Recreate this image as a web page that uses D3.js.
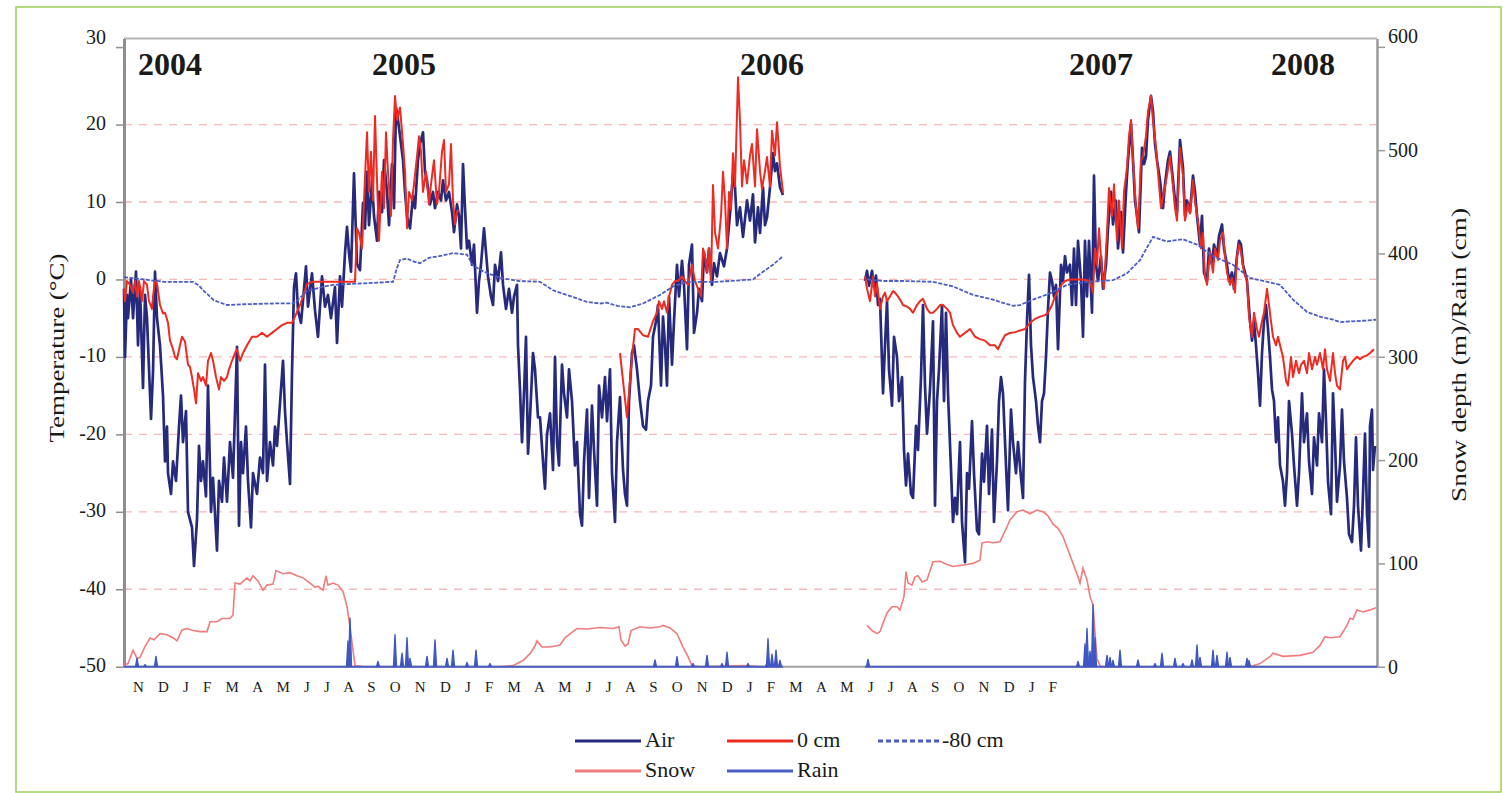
<!DOCTYPE html>
<html>
<head>
<meta charset="utf-8">
<script src="https://cdn.jsdelivr.net/npm/d3@7"></script>
<style>
  body { margin: 0; background: #fff; }
  svg text { font-family: "Liberation Serif", "DejaVu Serif", serif; fill: #1a1a1a; }
</style>
</head>
<body>
<div id="chart"></div>
<script>
// axis ticks and labels
const tempTicks = [-50, -40, -30, -20, -10, 0, 10, 20, 30];
const depthTicks = [0, 100, 200, 300, 400, 500, 600];
const years = ["2004", "2005", "2006", "2007", "2008"];
const yearDay = [46, 280, 648, 977, 1179];
const months = ["N","D","J","F","M","A","M","J","J","A","S","O",
                "N","D","J","F","M","A","M","J","J","A","S","O",
                "N","D","J","F","M","A","M","J","J","A","S","O",
                "N","D","J","F"];

// day index (0 = first record), value ; null = no record
const air = [[0,-1.2],[1,-10],[3,-2],[4,-5],[7,0],[9,-5],[12,1],[14,-8.5],[16,-1],[19,-14],[21,-2],[23,-5],[27,-18],[29,-12],[31,1],[33,-5],[36,-8.5],[39,-15],[41,-23.5],[43,-19],[44,-25],[47,-27.7],[49,-23.5],[52,-26],[55,-19],[57,-15],[59,-21],[62,-17],[64,-30],[68,-32],[70,-37],[73,-31],[75,-21.5],[77,-26],[79,-23.5],[82,-28],[84,-13.7],[87,-30],[89,-25.6],[93,-35],[95,-26],[98,-28.7],[100,-23],[103,-28.7],[106,-21],[109,-25.6],[113,-8.7],[115,-31.8],[117,-21],[119,-25],[122,-19],[124,-26],[127,-32],[129,-25],[133,-27.7],[136,-23],[139,-25],[141,-11],[143,-26],[146,-21],[149,-24],[151,-19],[153,-21.5],[159,-10.5],[161,-17],[163,-21],[166,-26.4],[168,-12],[170,-1],[172,0.8],[174,-4],[177,-5.6],[182,1.7],[184,-3.5],[188,0.8],[191,-4],[194,-7.4],[198,0.4],[201,-3.5],[204,-2],[207,-5],[211,-1],[213,-8.2],[216,0.4],[218,-3.5],[221,3.4],[223,6.8],[225,3.4],[227,1],[230,13.7],[233,2],[236,1.2],[239,9.9],[241,6.6],[243,13.9],[245,7],[248,12.8],[250,8.2],[253,5],[255,11.3],[258,8.7],[260,15.4],[263,11.3],[265,7],[268,14.9],[270,9.2],[272,22.2],[274,20.6],[277,17.5],[279,15.4],[281,11.3],[283,8.2],[286,6.6],[289,10.8],[291,9.2],[294,15.4],[296,17.5],[299,19],[301,13.9],[303,12.8],[306,9.7],[309,11.3],[311,9.2],[314,11.3],[317,10.2],[319,12.8],[322,10.2],[325,11.3],[328,8.7],[330,6.1],[333,9.7],[335,8.2],[337,4],[339,14.9],[341,9.2],[343,4],[345,5],[348,1.9],[350,4.5],[353,-4.3],[355,-0.2],[357,1.9],[360,6.6],[362,3.5],[364,0.4],[367,-2.2],[369,-3.3],[371,1.9],[374,-0.2],[377,3.5],[379,-0.7],[382,-3.8],[385,-1.2],[388,-4.3],[390,-2.2],[393,-0.7],[394,-8.5],[396,-14.2],[398,-21],[400,-14.7],[402,-7.4],[404,-22.5],[406,-17.8],[409,-9.5],[411,-11.6],[414,-17.8],[416,-17.8],[419,-23.5],[421,-27],[423,-20],[426,-17.3],[429,-24.6],[431,-10],[433,-21],[435,-24],[438,-11],[440,-14.7],[443,-17.8],[445,-11.6],[448,-15.7],[451,-24],[453,-21],[456,-30.3],[458,-31.8],[460,-23.5],[463,-16.8],[465,-28.2],[468,-16.3],[470,-22],[473,-29.2],[475,-13.7],[478,-17.8],[481,-12.6],[483,-18.3],[486,-11.6],[488,-25],[491,-31.3],[493,-21],[496,-15.2],[499,-24.6],[501,-27.7],[503,-29.2],[505,-15.7],[508,-9.5],[510,-8.5],[513,-11.6],[516,-15.7],[519,-18.9],[522,-19.4],[524,-15.7],[527,-13.7],[529,-7.4],[532,-5.4],[534,-3.3],[537,-13.7],[539,-4.8],[541,-8.5],[543,-13.7],[545,-2.2],[548,-11],[550,-5.4],[553,1.9],[555,-2.2],[558,2.4],[560,-0.7],[563,-9],[565,1.9],[568,4.5],[570,-6.9],[573,-4.3],[575,-1.2],[578,-2.8],[580,3.5],[583,0.9],[585,4],[588,-0.7],[590,2.1],[593,0.4],[596,3.4],[600,1.7],[603,4],[606,8.5],[609,13.6],[611,11.9],[613,7],[616,9.3],[619,5.5],[623,10.2],[626,7.6],[629,11],[631,4.8],[634,9.3],[636,6],[639,11.9],[641,7],[643,8],[646,11.9],[649,16.3],[651,14],[653,15],[656,11.9],[659,10.9],
  [700,null],
  [741,-0.2],[743,1.1],[745,-0.8],[748,1.1],[750,-1],[752,0.5],[754,-3.3],[756,-2.5],[759,-14.7],[761,-8.5],[763,-2.8],[765,-11.6],[768,-16.3],[770,-7.4],[773,-10],[775,-15.7],[778,-12.6],[780,-22],[782,-26.6],[784,-22.5],[787,-27.7],[789,-28.2],[792,-18.9],[794,-22],[797,-12.6],[799,-3.3],[801,-13.7],[803,-19.9],[806,-14.2],[809,-5.4],[811,-29.2],[813,-15.7],[815,-11.6],[818,-3.3],[820,-15.7],[822,-4.3],[824,-14.7],[827,-24.6],[829,-31.3],[831,-28.2],[833,-30.3],[836,-21],[838,-31.3],[841,-36.5],[843,-25],[845,-27],[848,-18.3],[850,-25],[853,-32.4],[855,-32.9],[858,-22.5],[860,-26.1],[863,-18.9],[865,-27.7],[868,-19.4],[870,-31.3],[873,-23.5],[875,-15.7],[877,-12.6],[879,-14.7],[882,-24],[884,-29.8],[887,-16.8],[889,-21],[892,-25],[894,-21],[897,-25.6],[899,-28.2],[901,-13.1],[903,-5.4],[905,0.6],[907,-8.5],[909,-12.6],[912,-15.7],[914,-18.9],[916,-21],[918,-15.7],[920,-14.7],[922,-10],[924,-3.8],[926,0.9],[928,-0.2],[930,-2.2],[932,-0.7],[934,-9],[937,1.9],[939,-0.2],[941,3],[943,0.9],[946,1.9],[948,-3.3],[950,4],[952,-3.3],[954,5],[957,-0.2],[959,-7.4],[961,5],[963,-2.2],[965,5],[968,-4.3],[970,13.4],[972,1.9],[974,-0.2],[977,3],[979,-1.2],[982,1.9],[984,6.6],[987,11.3],[989,7.1],[992,10.2],[994,4],[997,8.7],[999,3.5],[1002,11.3],[1004,15.4],[1007,20.1],[1009,15.4],[1011,10.2],[1013,8.2],[1015,6.1],[1018,17],[1020,14.9],[1022,15.9],[1024,20.6],[1027,23.7],[1029,21.7],[1031,17.5],[1033,15.4],[1036,12.8],[1039,9.2],[1041,12.3],[1044,15.4],[1046,16.5],[1049,12.8],[1051,10.2],[1053,8.7],[1056,18],[1059,14.4],[1061,8.2],[1063,10.2],[1066,8.7],[1069,13.4],[1071,11.3],[1073,8.2],[1076,4.5],[1078,8.2],[1080,0.9],[1083,-0.2],[1085,4],[1088,1.9],[1090,4.5],[1093,3],[1095,5.6],[1098,7.1],[1100,4],[1103,1.9],[1105,-0.2],[1108,0.9],[1110,-1.2],[1113,3],[1115,5],[1117,4.5],[1119,1.9],[1121,0.9],[1123,-0.2],[1126,-5.4],[1128,-7.9],[1130,-5.4],[1132,-8.5],[1134,-12.1],[1136,-16.3],[1138,-9.5],[1140,-5.4],[1142,-3.3],[1144,-6.4],[1146,-10],[1148,-14.2],[1150,-15.7],[1152,-21],[1154,-17.8],[1156,-24],[1159,-26.1],[1161,-29.2],[1163,-25],[1165,-15.7],[1168,-19.9],[1170,-24],[1173,-29.2],[1175,-25],[1178,-14.7],[1180,-21],[1183,-17.3],[1185,-23.5],[1188,-27.7],[1190,-20.4],[1193,-24],[1195,-17.3],[1198,-21],[1200,-11.6],[1202,-18.3],[1204,-26.1],[1207,-30.3],[1209,-14.7],[1211,-21],[1213,-28.7],[1216,-24],[1218,-16.8],[1220,-23.5],[1223,-28.2],[1225,-32.9],[1228,-33.9],[1230,-29.2],[1232,-20.4],[1234,-29.2],[1237,-35],[1239,-27.7],[1241,-19.9],[1243,-30.3],[1245,-34.5],[1246,-18.9],[1248,-16.8],[1249,-24.6],[1251,-21.5]];

const soil0 = [[0,-1.2],[1,-2.8],[3,-0.2],[6,-0.7],[9,-1.7],[11,-0.2],[13,-2.2],[15,-0.2],[18,-2.8],[20,-0.2],[23,-0.7],[25,-2.8],[28,-3.8],[29,-2.2],[31,-0.2],[33,-0.5],[36,-3.3],[39,-4.4],[41,-4.3],[44,-5.6],[46,-7.9],[49,-9],[51,-10],[53,-10.3],[56,-8.5],[58,-7.4],[61,-8],[64,-11],[66,-11.3],[68,-12.6],[70,-14.2],[72,-16],[74,-12.1],[77,-13.1],[79,-12.6],[82,-13.7],[84,-10.5],[87,-9.5],[89,-10.5],[92,-12.6],[95,-14.2],[97,-12.6],[100,-13.1],[103,-12.6],[105,-11.6],[108,-10.5],[111,-9.5],[113,-9],[116,-10.5],[119,-9.5],[123,-8.5],[128,-7.4],[133,-7.4],[138,-6.9],[143,-7.4],[148,-6.9],[153,-6.4],[158,-5.9],[163,-5.6],[168,-5.6],[171,-4.8],[176,-3.3],[179,-2.2],[183,-0.6],[188,-0.3],[200,-0.3],[215,-0.3],[231,-0.3],[233,6.6],[235,6],[238,4],[240,10.2],[243,19],[245,11.3],[247,16.5],[249,10.2],[251,21.1],[253,12.8],[255,5],[258,13.9],[260,9.2],[262,19],[264,13.9],[267,8.2],[269,18],[271,23.7],[273,20.6],[276,22.2],[279,17.5],[281,13.9],[283,6.6],[285,11.3],[288,10.2],[290,12.3],[293,15.9],[295,18.5],[297,16.5],[299,11.3],[302,13.9],[305,9.7],[307,12.3],[310,15.4],[313,9.7],[315,11.3],[318,16.5],[320,18],[322,11.3],[325,12.3],[327,17.5],[329,10.2],[331,7.1],[333,8.7],[334,9],
  [400,null],
  [496,-9.5],[503,-17.8],[508,-10],[511,-6.4],[514,-6.4],[519,-7.2],[524,-7.4],[529,-5.4],[533,-4.3],[535,-2.8],[538,-3.8],[540,-2.8],[543,-4.3],[545,-2.2],[548,-0.7],[551,-0.2],[554,-0.2],[558,0.4],[561,-0.2],[564,-0.7],[568,1.9],[571,-0.2],[574,-1.2],[577,-2.2],[579,4],[581,3],[583,0.9],[585,4],[587,-0.2],[589,12.2],[591,6.1],[594,4],[597,8.2],[599,13.9],[601,10.2],[603,4],[605,11.3],[607,9],[609,16.3],[611,12],[614,26.1],[616,20.4],[618,12],[620,15.4],[623,12.4],[626,16],[628,17.5],[631,12],[633,19.4],[636,14],[638,11.7],[641,14],[643,15.8],[646,12],[648,19.2],[651,16],[653,20.3],[656,14.6],[659,11.2],
  [700,null],
  [741,0.4],[743,-1.2],[746,-2.8],[749,0.4],[751,-2.2],[753,-0.5],[756,-3.8],[759,-2.2],[761,-1.7],[763,-2.8],[766,-2.2],[769,-1.5],[771,-1.7],[774,-2.2],[777,-2.8],[779,-3.3],[783,-3.5],[786,-3.8],[789,-4.3],[793,-3.3],[796,-2.8],[799,-2.5],[803,-3.8],[806,-4.3],[809,-4.3],[813,-3.8],[816,-3.3],[819,-3.3],[823,-3.8],[826,-4.3],[829,-5.9],[833,-6.9],[836,-7.4],[841,-6.9],[846,-6.4],[851,-7.4],[856,-7.7],[861,-7.9],[866,-8.5],[871,-8.5],[874,-9],[878,-7.9],[881,-7.2],[886,-6.9],[891,-6.8],[896,-6.6],[901,-6.4],[906,-5.6],[911,-5.1],[916,-4.8],[921,-4.6],[924,-4.3],[928,-3.3],[931,-2.2],[934,-1.5],[938,-0.6],[941,-0.2],[946,0],[953,0],[959,0],[966,-0.2],[969,-1.7],[971,4],[973,1.9],[975,6.6],[978,0.9],[980,-1.2],[983,6.1],[985,11.8],[988,8.2],[990,12.3],[993,5],[995,10.2],[998,4],[1000,11.3],[1003,14.4],[1005,18.5],[1007,20.6],[1009,15.4],[1012,9.2],[1014,6.6],[1017,15.4],[1019,15.9],[1022,18.5],[1024,21.7],[1027,23.7],[1029,20.6],[1032,17],[1035,12.3],[1037,9.2],[1040,11.3],[1043,13.4],[1046,15.9],[1049,12],[1051,9.2],[1053,7.6],[1056,17],[1059,13.4],[1061,7.6],[1064,9.7],[1066,8.5],[1069,12.8],[1071,10],[1074,7.6],[1077,4],[1079,6],[1081,0.4],[1083,-0.7],[1086,3.5],[1089,0.9],[1091,4],[1094,2.5],[1096,5],[1099,6.1],[1101,3],[1103,0.9],[1106,-0.7],[1108,0.2],[1111,-1.7],[1113,3],[1115,4.5],[1117,3.5],[1120,0.9],[1123,-0.2],[1125,-4.8],[1128,-7.4],[1130,-4.3],[1133,-6.4],[1135,-7.4],[1138,-5.4],[1140,-4.3],[1143,-1.2],[1145,-3.3],[1147,-5.4],[1149,-7.4],[1152,-8.5],[1154,-7.4],[1157,-9],[1159,-10],[1162,-13.1],[1164,-13.7],[1167,-10],[1169,-12.6],[1172,-10.5],[1175,-12.1],[1177,-11],[1180,-10.5],[1183,-12.1],[1185,-9.5],[1188,-11.6],[1191,-10],[1193,-11],[1196,-9.5],[1199,-11.6],[1201,-9],[1203,-11.6],[1206,-13.1],[1209,-9.5],[1211,-12.1],[1213,-13.7],[1216,-14.2],[1219,-10.5],[1221,-10],[1223,-11.6],[1226,-11],[1229,-10.5],[1233,-10],[1236,-10.3],[1239,-10],[1243,-9.8],[1246,-9.5],[1250,-9]];

const soil80 = [[0,0.3],[40,-0.3],[69,-0.3],[75,-0.8],[80,-1.5],[90,-2.7],[103,-3.3],[120,-3.2],[150,-3.1],[169,-3.1],[175,-2.5],[183,-1.5],[200,-0.9],[209,-0.7],[240,-0.5],[269,-0.3],[273,1.5],[276,2.5],[283,2.7],[290,2.3],[296,2.1],[305,2.8],[315,3],[329,3.4],[343,3.2],[349,1.8],[360,1],[366,0.7],[376,0.2],[395,-0.2],[416,-0.3],[429,-1.4],[443,-2],[463,-2.9],[476,-3.1],[483,-3],[493,-3.4],[506,-3.6],[519,-3.1],[536,-2],[549,-0.9],[563,-0.3],[593,-0.3],[629,0],[639,1],[649,1.9],[658,2.9],
  [700,null],
  [743,0],[760,-0.2],[780,-0.2],[809,-0.3],[829,-0.9],[849,-2],[869,-2.6],[876,-2.9],[889,-3.4],[896,-3.3],[909,-2.6],[926,-1.8],[943,-0.7],[963,-0.3],[989,-0.1],[1003,0.8],[1016,2.5],[1029,5.5],[1043,4.9],[1059,5.2],[1073,4.5],[1089,3],[1109,1.9],[1126,0.2],[1143,-0.3],[1156,-0.7],[1169,-2.6],[1183,-4.2],[1196,-4.8],[1209,-5.2],[1216,-5.5],[1229,-5.4],[1243,-5.3],[1252,-5.2]];

// snow depth, cm
const snow = [[0,1.6],[4,3],[9,16],[13,8],[16,9],[21,19.4],[26,27.8],[30,26],[33,29],[36,32],[43,31],[49,28],[53,25],[58,35.5],[63,37],[69,35],[76,34],[83,34],[86,43.5],[93,43.5],[98,46.6],[106,46.6],[109,50],[111,81],[116,80],[123,86],[126,83],[129,88],[134,83],[139,74],[143,79],[149,80],[152,93],[159,90],[166,91],[173,88],[179,86],[186,81],[191,77],[194,78],[199,74],[202,88],[204,79],[209,81],[214,79],[219,73],[223,58],[226,38.7],[229,16],[231,1],[240,0],[376,0],[389,1],[399,6],[406,12.6],[411,20],[413,25],[418,19],[426,19],[436,21],[441,28],[449,34],[453,37],[463,36.5],[476,38],[489,37],[495,38.7],[497,26],[501,20],[504,22],[507,35],[516,38.7],[526,37.5],[536,38.7],[539,40],[546,37.5],[553,32],[559,19],[564,9.7],[568,1],[576,0],[620,1],[640,0],[658,0],
  [700,null],
  [743,40],[748,35],[753,32],[756,34],[759,42],[763,52],[768,58],[773,58],[776,55],[780,68],[782,92],[784,81],[788,79],[791,87],[794,88],[798,82],[803,84],[809,101.6],[816,102],[823,99],[829,97],[836,98],[843,99],[849,100],[856,103],[858,119.7],[863,121],[869,120],[876,121],[883,135.5],[886,142],[893,150],[899,151.6],[906,148],[913,151.6],[919,150],[924,146],[929,138],[934,134],[939,126],[944,113],[949,100],[954,87],[956,81],[959,95.5],[963,84],[966,68],[969,60],[971,33],[973,8],[976,0.6],[980,0],[1126,0],[1136,3],[1146,9.7],[1149,13],[1159,10],[1176,11],[1189,14],[1196,20.6],[1201,29],[1206,28],[1216,29],[1223,40],[1226,47],[1229,46],[1233,55],[1239,53],[1246,55],[1252,57]];

// rain events, cm
const rain = [[13,8],[21,2],[32,10],[224,25],[226,47],[254,5],[271,31],[278,13],[283,28],[286,8],[303,10],[311,26],[323,8],[329,16],[343,4],[352,16],[366,3],
  [531,6.5],[553,9.7],[569,3],[583,11],[598,3],[603,14],[624,3],[643,4],[644,27],[648,12],[652,16],[656,6],
  [744,7],[954,5],[961,22],[963,37],[966,15],[969,60],[971,28],[983,11],[986,9],[989,6],[996,16],[1014,6.5],[1031,3],[1038,13],[1051,8],[1059,3],[1068,6.5],[1073,21],[1076,9],[1089,16],[1093,11],[1103,14],[1106,9],[1123,8],[1125,6]];
const recordSpans = [[0, 659], [741, 1253]];

const serif = "Liberation Serif, DejaVu Serif, serif";
const width = 1503, height = 793;
const svg = d3.select("#chart").append("svg")
  .attr("width", width).attr("height", height);

// green frame
svg.append("rect").attr("x", 16).attr("y", 7).attr("width", 1485).attr("height", 785)
  .attr("fill", "none").attr("stroke", "#9ccf5c").attr("stroke-width", 1.5);

const x = d3.scaleLinear().domain([0, 1253]).range([124, 1377]);
const y = d3.scaleLinear().domain([-50, 31.1]).range([666.7, 38.6]);
const y2 = d3.scaleLinear().domain([0, 608]).range([666.7, 38.6]);

// grid
svg.append("g").selectAll("line")
  .data(tempTicks.filter(t => t > -50 && t < 30))
  .join("line")
  .attr("x1", x(0)).attr("x2", x(1253))
  .attr("y1", d => y(d)).attr("y2", d => y(d))
  .attr("stroke", "#f6b9b9").attr("stroke-width", 1.3)
  .attr("stroke-dasharray", "8,7");

// top frame + bottom axis line
svg.append("line").attr("x1", x(0)).attr("x2", x(1253)).attr("y1", y(31.1)).attr("y2", y(31.1))
  .attr("stroke", "#b4b4b4").attr("stroke-width", 2);
svg.append("line").attr("x1", x(0)).attr("x2", x(1253)).attr("y1", y(-50)).attr("y2", y(-50))
  .attr("stroke", "#a0a0a0").attr("stroke-width", 2);

// left axis
const gl = svg.append("g").attr("transform", `translate(${x(0)},0)`)
  .call(d3.axisLeft(y).tickValues(tempTicks).tickSize(8).tickSizeOuter(0).tickPadding(10)
    .tickFormat(d => String(d)));
gl.attr("font-family", serif).attr("font-size", 20);
gl.select(".domain").attr("stroke", "#8e8e8e").attr("stroke-width", 3);
gl.selectAll(".tick line").attr("stroke", "#8e8e8e").attr("stroke-width", 1.5);
gl.selectAll("text").attr("fill", "#1a1a1a").attr("dy", d => d === 30 ? "-0.2em" : "0.25em");

// right axis
const gr = svg.append("g").attr("transform", `translate(${x(1253)},0)`)
  .call(d3.axisRight(y2).tickValues(depthTicks).tickSize(8).tickSizeOuter(0).tickPadding(3));
gr.attr("font-family", serif).attr("font-size", 20);
gr.select(".domain").attr("stroke", "#9a9a9a").attr("stroke-width", 2.5);
gr.selectAll(".tick line").attr("stroke", "#9a9a9a").attr("stroke-width", 1.5);
gr.selectAll("text").attr("fill", "#1a1a1a").attr("dy", d => d === 600 ? "-0.2em" : "0.32em");

// axis titles
svg.append("text").attr("transform", "translate(64,348) rotate(-90)")
  .attr("text-anchor", "middle").attr("textLength", 189).attr("lengthAdjust", "spacingAndGlyphs")
  .attr("font-family", serif).attr("font-size", 22).text("Temperature (°C)");
svg.append("text").attr("transform", "translate(1466,355) rotate(-90)")
  .attr("text-anchor", "middle").attr("textLength", 294).attr("lengthAdjust", "spacingAndGlyphs")
  .attr("font-family", serif).attr("font-size", 22).text("Snow depth (m)/Rain (cm)");

// year labels
svg.append("g").selectAll("text").data(years).join("text")
  .attr("x", (d, i) => x(yearDay[i])).attr("y", 75)
  .attr("text-anchor", "middle")
  .attr("font-family", serif).attr("font-size", 32).attr("font-weight", "bold")
  .text(d => d);

// month labels
svg.append("text").attr("x", 133).attr("y", 692)
  .attr("textLength", 924).attr("lengthAdjust", "spacing")
  .attr("font-family", serif).attr("font-size", 15).text(months.join(" "));

const lineT = d3.line().defined(d => d[1] !== null).x(d => x(d[0])).y(d => y(d[1]));
const lineS = d3.line().defined(d => d[1] !== null).x(d => x(d[0])).y(d => y2(d[1]));

// snow
svg.append("path").datum(snow).attr("d", lineS)
  .attr("fill", "none").attr("stroke", "#f07c7c").attr("stroke-width", 1.6);

// rain: baseline over recorded spans, spikes for events
svg.append("g").selectAll("line").data(recordSpans).join("line")
  .attr("x1", d => x(d[0])).attr("x2", d => x(d[1]))
  .attr("y1", y2(0)).attr("y2", y2(0))
  .attr("stroke", "#4a60c6").attr("stroke-width", 2);
svg.append("g").selectAll("path").data(rain).join("path")
  .attr("d", d => lineS([[d[0] - 1.5, 0], [d[0], d[1]], [d[0] + 1.5, 0]]))
  .attr("fill", "#3f57c2").attr("stroke", "#3f57c2").attr("stroke-width", 1.4)
  .attr("stroke-linejoin", "round");

// air
svg.append("path").datum(air).attr("d", lineT)
  .attr("fill", "none").attr("stroke", "#262a7c").attr("stroke-width", 2.7)
  .attr("stroke-linejoin", "round");

// 0 cm
svg.append("path").datum(soil0).attr("d", lineT)
  .attr("fill", "none").attr("stroke", "#ee2b22").attr("stroke-width", 2)
  .attr("stroke-linejoin", "round");

// -80 cm
svg.append("path").datum(soil80).attr("d", lineT)
  .attr("fill", "none").attr("stroke", "#4b5cc4").attr("stroke-width", 1.8)
  .attr("stroke-dasharray", "4,1.5");

// legend
const legend = [
  {name: "Air", color: "#262a7c", dash: null, lx: 575, ly: 741},
  {name: "0 cm", color: "#ee2b22", dash: null, lx: 727, ly: 741},
  {name: "-80 cm", color: "#4b5cc4", dash: "5,3", lx: 878, ly: 741},
  {name: "Snow", color: "#f07c7c", dash: null, lx: 575, ly: 771},
  {name: "Rain", color: "#4a60c6", dash: null, lx: 727, ly: 771}
];
const lg = svg.append("g").selectAll("g").data(legend).join("g");
lg.append("line")
  .attr("x1", d => d.lx).attr("x2", d => d.lx + (d.dash ? 64 : 66))
  .attr("y1", d => d.ly).attr("y2", d => d.ly)
  .attr("stroke", d => d.color).attr("stroke-width", 3)
  .attr("stroke-dasharray", d => d.dash);
lg.append("text")
  .attr("x", d => d.lx + (d.dash ? 64 : 70)).attr("y", d => d.ly + 6)
  .attr("font-family", serif).attr("font-size", 22).text(d => d.name);
</script>
</body>
</html>
